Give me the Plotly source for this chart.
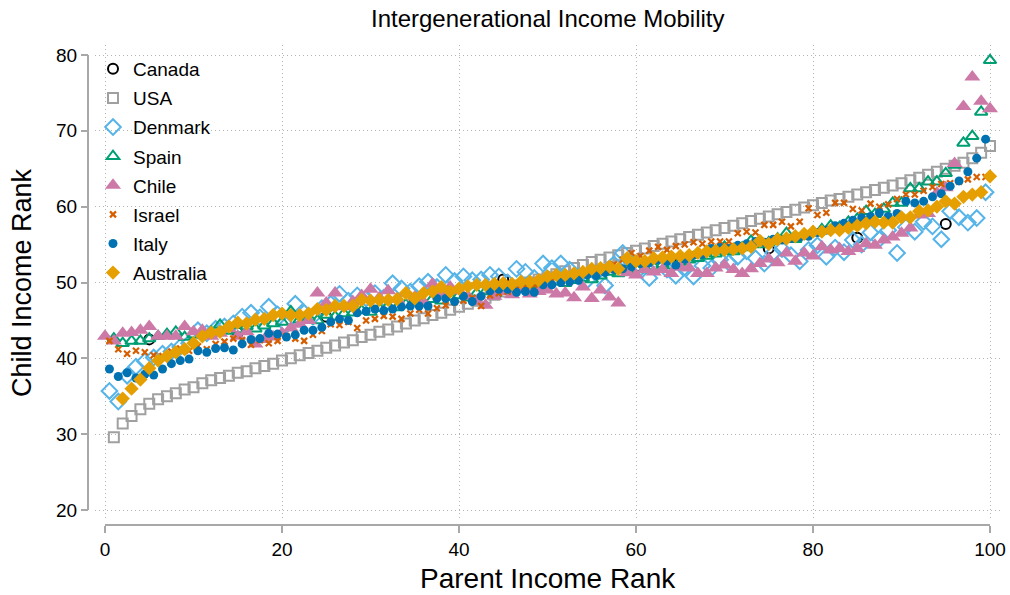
import plotly.graph_objects as go

# ---- data: child income rank by parent income rank ----
canada_x = [5, 15, 25, 35, 45, 55, 65, 75, 85, 95]
canada_y = [42.5, 43.4, 45.5, 47.8, 50.4, 51.5, 52.8, 54.5, 55.9, 57.7]

usa_x = list(range(1, 101))
usa_y = [29.6, 31.4, 32.4, 33.3, 34.0, 34.6, 35.0, 35.4, 35.9, 36.2,
         36.7, 37.1, 37.4, 37.7, 38.1, 38.3, 38.7, 39.0, 39.3, 39.7,
         40.0, 40.4, 40.7, 41.0, 41.4, 41.7, 42.1, 42.4, 42.8, 43.1,
         43.5, 43.8, 44.2, 44.6, 45.0, 45.3, 45.7, 46.0, 46.4, 46.8,
         47.2, 47.6, 48.0, 48.4, 48.8, 49.2, 49.6, 50.0, 50.4, 50.7,
         51.1, 51.5, 51.9, 52.3, 52.7, 53.0, 53.3, 53.6, 53.9, 54.2,
         54.5, 54.8, 55.1, 55.4, 55.7, 56.0, 56.3, 56.6, 56.9, 57.2,
         57.5, 57.8, 58.1, 58.4, 58.7, 59.0, 59.3, 59.6, 59.9, 60.2,
         60.5, 60.8, 61.0, 61.3, 61.6, 61.9, 62.2, 62.5, 62.8, 63.1,
         63.5, 63.8, 64.2, 64.6, 65.0, 65.4, 65.8, 66.4, 67.1, 68.0]

denmark_x = [i + 0.5 for i in range(100)]
denmark_y = [35.7, 34.3, 37.7, 38.9, 39.6, 40.1, 40.6, 40.9, 41.5, 42.0,
             43.7, 43.3, 43.9, 44.2, 44.6, 45.5, 46.0, 45.4, 46.8, 45.8,
             44.4, 47.2, 46.0, 45.5, 46.6, 47.2, 48.5, 47.6, 48.3, 47.9,
             48.6, 48.0, 49.9, 49.2, 48.8, 49.5, 50.1, 49.4, 51.0, 50.2,
             50.8, 50.3, 50.4, 51.0, 50.8, 50.0, 51.8, 51.4, 50.6, 52.5,
             51.9, 52.5, 51.7, 50.8, 50.3, 51.2, 49.6, 52.4, 53.9, 52.6,
             51.9, 50.6, 52.3, 51.7, 50.9, 52.0, 50.8, 52.2, 51.9, 53.0,
             52.6, 53.4, 54.1, 53.2, 52.5, 53.9, 54.4, 53.6, 52.8, 54.3,
             54.9, 53.4, 54.6, 54.0, 55.6, 55.0, 56.6, 55.7, 56.9, 53.9,
             57.3, 56.7, 58.0, 57.4, 55.7, 59.4, 58.6, 57.9, 58.5, 61.9]

spain_x = list(range(1, 101))
spain_y = [42.6, 42.0, 42.3, 42.3, 42.6, 42.9, 43.2, 43.5, 42.8, 43.1,
           43.2, 43.5, 44.4, 43.6, 43.8, 44.2, 43.9, 44.3, 44.6, 44.8,
           46.2, 45.1, 45.4, 45.0, 45.7, 45.5, 45.9, 46.0, 46.3, 46.1,
           46.6, 46.9, 46.7, 47.1, 47.5, 47.3, 47.8, 47.6, 48.1, 48.3,
           48.0, 48.6, 48.8, 48.5, 49.0, 49.3, 49.1, 49.6, 49.4, 49.8,
           50.1, 49.9, 50.3, 50.6, 50.4, 50.9, 51.4, 51.2, 51.6, 51.9,
           51.7, 52.1, 52.4, 52.2, 52.7, 53.0, 53.2, 53.5, 53.8, 54.7,
           54.1, 54.6, 55.5, 55.0, 55.3, 55.8, 56.5, 55.7, 56.2, 56.6,
           57.0, 57.5, 57.3, 58.0, 58.4, 59.4, 59.0, 59.7, 60.5, 60.5,
           62.4, 62.4, 63.3, 63.3, 64.4, 65.5, 68.4, 69.3, 72.5, 79.3]

chile_x = list(range(0, 101))
chile_y = [42.9, 42.3, 43.3, 43.4, 43.7, 44.2, 42.9, 42.9, 42.9, 44.2,
           43.5, 43.7, 42.9, 43.3, 43.9, 42.9, 43.5, 41.9, 42.5, 42.8,
           43.3, 44.0, 44.5, 45.0, 48.6, 47.3, 48.6, 46.8, 47.5, 48.3,
           49.1, 48.0, 48.9, 47.8, 48.6, 48.1, 47.4, 49.8, 48.5, 49.4,
           48.9, 48.2, 47.5, 47.0, 48.2, 48.8, 48.4, 49.1, 48.5, 48.8,
           49.0, 48.5, 48.6, 48.0, 49.4, 47.9, 49.0, 48.1, 47.3, 51.3,
           51.0, 51.7, 51.4, 51.7, 51.2, 52.0, 51.9, 51.2, 51.2, 51.9,
           52.3, 51.7, 51.2, 51.8, 52.5, 53.1, 52.6, 53.9, 52.8, 53.9,
           53.5, 54.7, 54.3, 54.5, 54.1, 54.5, 55.1, 54.9, 55.6, 56.0,
           56.5, 57.2, 58.9, 59.1, 61.8, 62.5, 65.7, 73.2, 77.1, 73.9,
           72.9]

israel_x = [i + 0.5 for i in range(100)]
israel_y = [42.3, 41.2, 40.6, 41.0, 40.8, 40.4, 40.3, 40.9, 41.3, 41.0,
            41.6, 41.2, 41.9, 42.2, 42.6, 42.4, 41.8, 42.4, 42.0, 42.3,
            42.9, 42.6, 42.3, 43.1, 43.6, 44.5, 44.4, 44.8, 44.0, 45.0,
            45.2, 45.6, 45.5, 45.2, 45.9, 46.4, 45.9, 46.6, 47.0, 47.4,
            47.6, 48.0, 46.9, 48.3, 48.6, 48.8, 49.1, 49.4, 49.7, 49.9,
            50.2, 50.6, 50.1, 51.0, 51.3, 51.6, 51.9, 52.4, 53.0, 53.9,
            53.5, 54.2, 54.7, 54.3, 54.8, 55.0, 55.3, 55.1, 55.4, 55.4,
            55.4, 56.5, 56.7, 56.6, 57.6, 57.6, 58.0, 57.4, 58.0, 59.8,
            58.9, 59.2, 60.5, 60.5, 59.7, 59.5, 60.4, 60.0, 60.3, 61.0,
            61.6, 61.6, 62.1, 62.6, 63.0, 63.1, 63.3, 63.6, 63.9, 63.9]

italy_x = [i + 0.5 for i in range(100)]
italy_y = [38.6, 37.6, 38.1, 37.4, 37.9, 37.8, 38.6, 39.3, 39.7, 39.9,
           41.0, 40.8, 41.3, 41.4, 41.1, 41.9, 42.5, 42.6, 43.3, 43.2,
           42.8, 43.1, 43.7, 43.7, 44.1, 44.8, 45.2, 45.0, 46.0, 46.2,
           46.5, 46.3, 46.5, 46.8, 46.9, 46.9, 46.9, 47.9, 47.9, 47.5,
           48.2, 47.5, 48.2, 48.9, 49.1, 49.1, 48.7, 48.8, 48.7, 49.7,
           49.7, 50.0, 50.1, 50.3, 51.0, 50.9, 51.3, 51.7, 51.8, 52.1,
           52.5, 52.6, 53.0, 52.8, 52.3, 53.1, 53.6, 53.7, 54.5, 54.6,
           54.5, 54.9, 55.1, 55.4, 55.3, 55.7, 55.6, 55.8, 56.0, 56.1,
           56.6, 56.9, 57.5, 57.8, 58.2, 58.5, 58.7, 59.2, 58.7, 59.1,
           60.7, 60.5, 60.7, 61.3, 61.7, 62.7, 63.4, 64.6, 66.4, 68.9]

australia_x = list(range(2, 101))
australia_y = [34.7, 36.0, 37.2, 38.7, 39.7, 40.3, 40.8, 41.2, 42.0,
               42.9, 43.4, 43.5, 44.2, 44.7, 44.6, 45.1, 45.2, 45.7, 45.9,
               45.7, 45.7, 45.9, 46.5, 46.4, 46.9, 46.9, 46.9, 47.7, 47.6,
               47.7, 47.7, 47.8, 48.6, 47.9, 48.6, 48.8, 49.4, 48.8, 49.2,
               49.5, 49.7, 49.7, 49.8, 49.9, 49.8, 50.1, 50.1, 50.3, 50.8,
               51.0, 51.0, 51.2, 51.4, 51.8, 51.9, 52.1, 51.8, 53.2, 52.8,
               52.8, 53.2, 53.3, 53.4, 53.5, 53.6, 53.9, 54.1, 54.2, 54.3,
               54.4, 54.5, 54.7, 55.5, 55.1, 55.7, 55.8, 56.1, 56.4, 56.7,
               56.7, 56.9, 56.9, 57.2, 57.5, 57.8, 58.0, 57.9, 57.9, 58.6,
               58.6, 59.4, 59.5, 60.0, 60.7, 60.4, 61.3, 61.6, 61.9, 64.0]

x_ticks = [0, 20, 40, 60, 80, 100]
y_ticks = [20, 30, 40, 50, 60, 70, 80]

# ---- figure ----
W, H = 1010, 595
FONT = "Liberation Sans, Arial, Helvetica, sans-serif"
GRID = "#b4b4b4"
AXIS = "#a8a8a8"

series = [
    ("Canada", canada_x, canada_y, dict(symbol="circle-open", size=10, color="#000000", line=dict(width=2))),
    ("USA", usa_x, usa_y, dict(symbol="square-open", size=10, color="#a0a0a0", line=dict(width=2))),
    ("Denmark", denmark_x, denmark_y, dict(symbol="diamond-open", size=12, color="#56b4e9", line=dict(width=2))),
    ("Spain", spain_x, spain_y, dict(symbol="triangle-up-open", size=11, color="#009e73", line=dict(width=2))),
    ("Chile", chile_x, chile_y, dict(symbol="triangle-up", size=14, color="#cc79a7")),
    ("Israel", israel_x, israel_y, dict(symbol="x-thin-open", size=6, color="#d55e00", line=dict(width=2.2, color="#d55e00"))),
    ("Italy", italy_x, italy_y, dict(symbol="circle", size=9, color="#0072b2")),
    ("Australia", australia_x, australia_y, dict(symbol="diamond", size=11, color="#e69f00")),
]

fig = go.Figure()
for name, xs, ys, mk in series:
    fig.add_trace(go.Scatter(x=xs, y=ys, mode="markers", name=name,
                             legendgroup=name, marker=mk))

# plot region in pixels
px_left, px_right = 95, 1000
py_top, py_bottom = 45, 520
x0_px, x_scale = 105.0, 8.85          # x=0 at 105 px, 8.85 px per unit
y20_px, y_scale = 510.0, 455.0 / 60   # y=20 at 510 px

x_range = [(px_left - x0_px) / x_scale, (px_right - x0_px) / x_scale]
y_range = [20 + (y20_px - py_bottom) / y_scale, 20 + (y20_px - py_top) / y_scale]

xaxis_pos = (H - 525) / H
yaxis_pos = 88 / W

grid_dash = "1px,3px"

fig.update_layout(
    width=W, height=H,
    margin=dict(l=0, r=0, t=0, b=0),
    paper_bgcolor="white", plot_bgcolor="white",
    font=dict(family=FONT, color="#000000"),
    xaxis=dict(domain=[px_left / W, px_right / W], range=x_range,
               anchor="free", position=xaxis_pos,
               tickvals=x_ticks, ticks="outside", ticklen=7, tickcolor=AXIS,
               tickwidth=1.5, tickfont=dict(size=19, family=FONT),
               showgrid=True, gridcolor=GRID, griddash=grid_dash, gridwidth=1,
               zeroline=False, showline=False, automargin=False),
    yaxis=dict(domain=[(H - py_bottom) / H, (H - py_top) / H], range=y_range,
               anchor="free", position=yaxis_pos,
               tickvals=y_ticks, ticks="outside", ticklen=7, tickcolor=AXIS,
               tickwidth=1.5, tickfont=dict(size=19, family=FONT),
               showgrid=True, gridcolor=GRID, griddash=grid_dash, gridwidth=1,
               zeroline=False, showline=False, automargin=False),
    legend=dict(x=93 / W, y=1 - 50 / H, xanchor="left", yanchor="top",
                bgcolor="rgba(0,0,0,0)", borderwidth=0,
                font=dict(size=19, family=FONT),
                tracegroupgap=1.4, itemsizing="trace"),
    showlegend=True,
)

# offset axis lines spanning the tick range
fig.add_shape(type="line", xref="x", yref="paper", x0=0, x1=100,
              y0=xaxis_pos, y1=xaxis_pos, line=dict(color=AXIS, width=2))
fig.add_shape(type="line", xref="paper", yref="y", x0=yaxis_pos, x1=yaxis_pos,
              y0=20, y1=80, line=dict(color=AXIS, width=2))

# titles
fig.add_annotation(text="Intergenerational Income Mobility", xref="paper", yref="paper",
                   x=548 / W, y=1 - 18 / H, showarrow=False,
                   font=dict(size=24, family=FONT), xanchor="center", yanchor="middle")
fig.add_annotation(text="Parent Income Rank", xref="paper", yref="paper",
                   x=548 / W, y=1 - 578 / H, showarrow=False,
                   font=dict(size=28, family=FONT), xanchor="center", yanchor="middle")
fig.add_annotation(text="Child Income Rank", xref="paper", yref="paper",
                   x=22 / W, y=1 - 283 / H, showarrow=False, textangle=-90,
                   font=dict(size=27, family=FONT), xanchor="center", yanchor="middle")

fig.write_html("out.html")
